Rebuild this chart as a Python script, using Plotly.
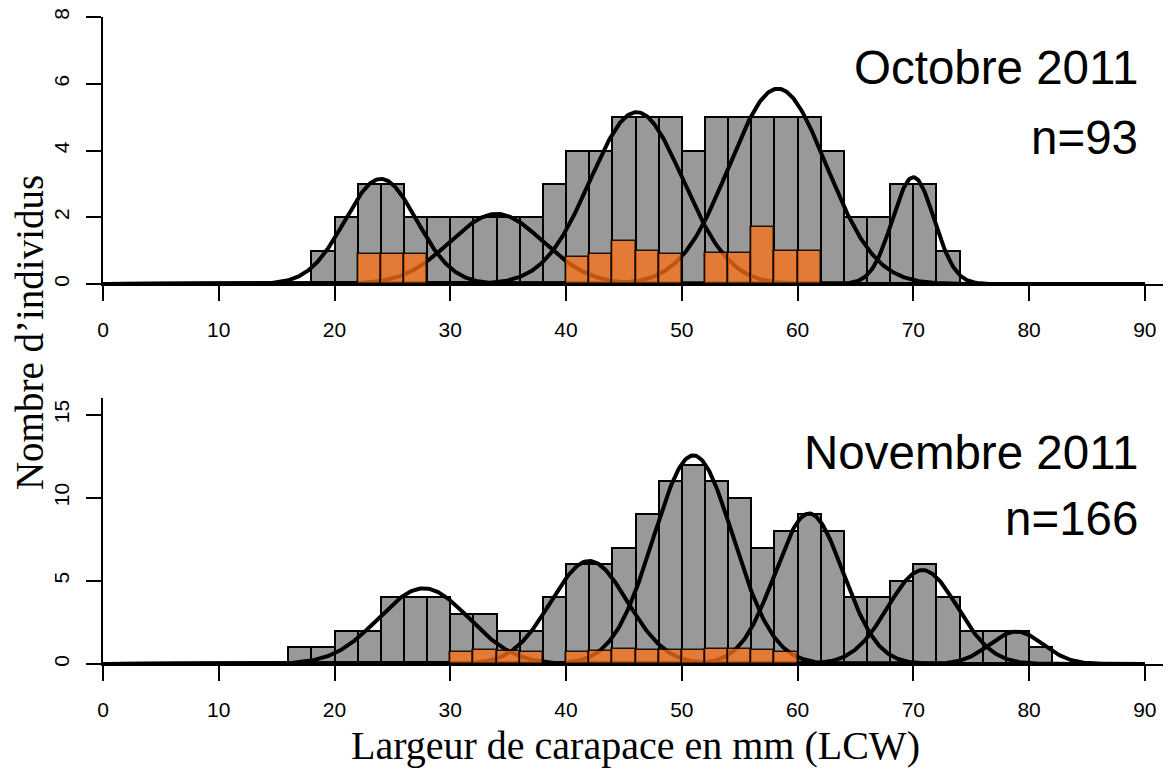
import numpy as np
import plotly.graph_objects as go

# ---------------- data ----------------
bin_width = 2
oct_bin_start = 18
oct_counts = [1, 2, 3, 3, 2, 2, 2, 2, 2, 2, 3, 4, 4, 5, 5, 5, 4, 5, 5, 5, 5, 5, 4, 2, 2, 3, 3, 1]
oct_orange = [0, 0, 0.9, 0.9, 0.9, 0, 0, 0, 0, 0, 0, 0.8, 0.9, 1.3, 1.0, 0.9, 0, 0.92, 0.92, 1.7, 1.0, 1.0, 0, 0, 0, 0, 0, 0]
oct_means = [24.0, 34.0, 46.1, 58.3, 70.0]
oct_sds = [3.1, 4.0, 4.0, 4.2, 1.8]
oct_peaks = [3.15, 2.1, 5.15, 5.85, 3.2]

nov_bin_start = 16
nov_counts = [1, 1, 2, 2, 4, 4, 4, 3, 3, 2, 2, 4, 6, 6, 7, 9, 11, 12, 11, 10, 7, 8, 9, 8, 4, 4, 5, 6, 4, 2, 2, 2, 1]
nov_orange = [0, 0, 0, 0, 0, 0, 0, 0.7, 0.85, 0.8, 0.75, 0, 0.75, 0.8, 0.9, 0.85, 0.85, 0.85, 0.9, 0.9, 0.85, 0.75,
              0, 0, 0, 0, 0, 0, 0, 0, 0, 0, 0]
nov_means = [27.7, 42.0, 51.0, 61.0, 70.8, 78.9]
nov_sds = [3.9, 3.3, 3.45, 2.95, 3.0, 2.3]
nov_peaks = [4.55, 6.2, 12.55, 9.05, 5.65, 1.95]

x_ticks = [0, 10, 20, 30, 40, 50, 60, 70, 80, 90]
oct_yticks = [0, 2, 4, 6, 8]
nov_yticks = [0, 5, 10, 15]

# ---------------- styles ----------------
GRAY = "#999999"
ORANGE = "rgba(250,112,22,0.76)"
SANS = "Liberation Sans, Arial, sans-serif"
SERIF = "Liberation Serif, Times New Roman, serif"

fig = go.Figure()


def add_panel(start, counts, orange, means, sds, peaks, xa, ya, ya_over):
    centers = [start + bin_width * i + bin_width / 2 for i in range(len(counts))]
    fig.add_trace(go.Bar(x=centers, y=counts, width=bin_width, xaxis=xa, yaxis=ya,
                         marker=dict(color=GRAY, line=dict(color="black", width=2)),
                         showlegend=False, hoverinfo="skip"))
    xs = np.linspace(0, 90, 901)
    for m, s, p in zip(means, sds, peaks):
        ys = p * np.exp(-0.5 * ((xs - m) / s) ** 2)
        fig.add_trace(go.Scatter(x=xs, y=ys, mode="lines", xaxis=xa, yaxis=ya,
                                 line=dict(color="black", width=4),
                                 showlegend=False, hoverinfo="skip"))
    oc = [c for c, v in zip(centers, orange) if v > 0]
    ov = [v for v in orange if v > 0]
    fig.add_trace(go.Bar(x=oc, y=ov, width=bin_width, xaxis=xa, yaxis=ya_over,
                         marker=dict(color=ORANGE, line=dict(color="rgba(0,0,0,0.85)", width=1.5)),
                         showlegend=False, hoverinfo="skip"))


add_panel(oct_bin_start, oct_counts, oct_orange, oct_means, oct_sds, oct_peaks, "x", "y", "y3")
add_panel(nov_bin_start, nov_counts, nov_orange, nov_means, nov_sds, nov_peaks, "x2", "y2", "y4")

xcommon = dict(range=[0, 92], tickvals=x_ticks, showgrid=False, zeroline=False, automargin=False,
               showline=True, linecolor="black", linewidth=2,
               ticks="outside", ticklen=15, tickwidth=2, tickcolor="black",
               tickfont=dict(family=SANS, size=21, color="black"), ticklabelstandoff=11)
ycommon = dict(showgrid=False, zeroline=False, automargin=False, showline=True, linecolor="black", linewidth=2,
               ticks="outside", ticklen=15, tickwidth=2, tickcolor="black", tickangle=-90,
               tickfont=dict(family=SANS, size=21, color="black"), ticklabelstandoff=9)

top_dom = [0.5873, 1.0]
bot_dom = [0.0, 0.4111]

# the page body adds an 8px offset, so the figure is 8px smaller and margins compensate
fig.update_layout(
    width=1163, height=763,
    margin=dict(l=95, r=3, t=9, b=107, autoexpand=False),
    paper_bgcolor="white", plot_bgcolor="rgba(0,0,0,0)",
    barmode="overlay", bargap=0,
    xaxis=dict(domain=[0, 1], anchor="y", **xcommon),
    xaxis2=dict(domain=[0, 1], anchor="y2", **xcommon),
    yaxis=dict(domain=top_dom, anchor="x", range=[0, 8], tickvals=oct_yticks, **ycommon),
    yaxis2=dict(domain=bot_dom, anchor="x2", range=[0, 16], tickvals=nov_yticks, **ycommon),
    yaxis3=dict(domain=top_dom, anchor="x", overlaying="y", range=[0, 8], visible=False),
    yaxis4=dict(domain=bot_dom, anchor="x2", overlaying="y2", range=[0, 16], visible=False),
)

title_font = dict(family=SANS, size=47.5, color="black")
fig.add_annotation(text="Octobre 2011", xref="x", yref="y", x=89.6, y=6.5,
                   xanchor="right", yanchor="middle", showarrow=False, font=title_font)
fig.add_annotation(text="n=93", xref="x", yref="y", x=89.6, y=4.39,
                   xanchor="right", yanchor="middle", showarrow=False, font=title_font)
fig.add_annotation(text="Novembre 2011", xref="x2", yref="y2", x=89.6, y=12.7,
                   xanchor="right", yanchor="middle", showarrow=False, font=title_font)
fig.add_annotation(text="n=166", xref="x2", yref="y2", x=89.6, y=8.75,
                   xanchor="right", yanchor="middle", showarrow=False, font=title_font)

fig.add_annotation(text="Largeur de carapace en mm (LCW)", xref="paper", yref="paper",
                   x=0.5, y=-0.1252, xanchor="center", yanchor="middle", showarrow=False,
                   font=dict(family=SERIF, size=40, color="black"))
fig.add_annotation(text="Nombre d’individus", xref="paper", yref="paper",
                   x=-0.0685, y=0.5116, xanchor="center", yanchor="middle", showarrow=False,
                   textangle=-90, font=dict(family=SERIF, size=39, color="black"))

fig.write_html("out.html")
